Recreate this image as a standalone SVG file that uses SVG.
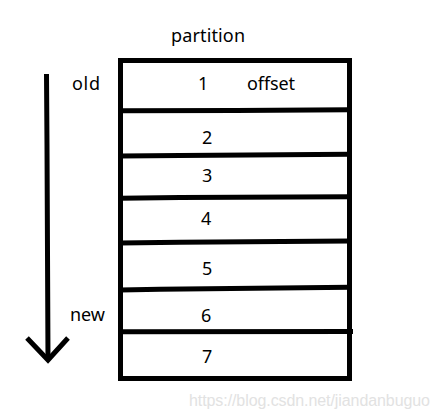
<svg xmlns="http://www.w3.org/2000/svg" width="440" height="419" viewBox="0 0 440 419">
<style>
.t{font-family:"Noto Sans","Open Sans","Liberation Sans",sans-serif;font-size:18px;fill:#000}
.ln{stroke:#000;stroke-width:5;fill:none;stroke-linecap:butt}
.wm{font-family:"Liberation Sans",Arial,sans-serif;font-size:16px;fill:#e2e2e2}
</style>
<rect width="440" height="419" fill="#fff"/>
<text class="t" x="171" y="42" textLength="74">partition</text>
<g id="partition">
<rect class="ln" x="120.5" y="60.5" width="229" height="318"/>
</g>
<g id="connectors">
<path class="ln" d="M120 110.8 L236 110.5 L350 109.8"/>
<path class="ln" d="M120 156 L180 155.6 L350 154.2"/>
<path class="ln" d="M120 198.3 L180 197.6 L350 196.8"/>
<path class="ln" d="M120 243 L180 242.2 L350 241"/>
<path class="ln" d="M120 290 L160 289.3 L350 287.3"/>
<path class="ln" d="M120 331.7 L353 331.5"/>
<path class="ln" d="M46.5 74 L47 146 L48 360"/>
<path class="ln" d="M27 338 L48 360 L68 338" stroke-linejoin="miter"/>
</g>
<g id="n1"><text class="t" x="198" y="90">1</text><text class="t" x="247" y="90" textLength="48">offset</text></g>
<g id="n2"><text class="t" x="202" y="144">2</text></g>
<g id="n3"><text class="t" x="202" y="182">3</text></g>
<g id="n4"><text class="t" x="201" y="225">4</text></g>
<g id="n5"><text class="t" x="202" y="275">5</text></g>
<g id="n6"><text class="t" x="201" y="322">6</text></g>
<g id="n7"><text class="t" x="202" y="363">7</text></g>
<g id="old"><text class="t" x="72" y="90" textLength="28">old</text></g>
<g id="new"><text class="t" x="70" y="321" textLength="35">new</text></g>
<text class="wm" x="189" y="406" textLength="241">https://blog.csdn.net/jiandanbuguo</text>
</svg>
